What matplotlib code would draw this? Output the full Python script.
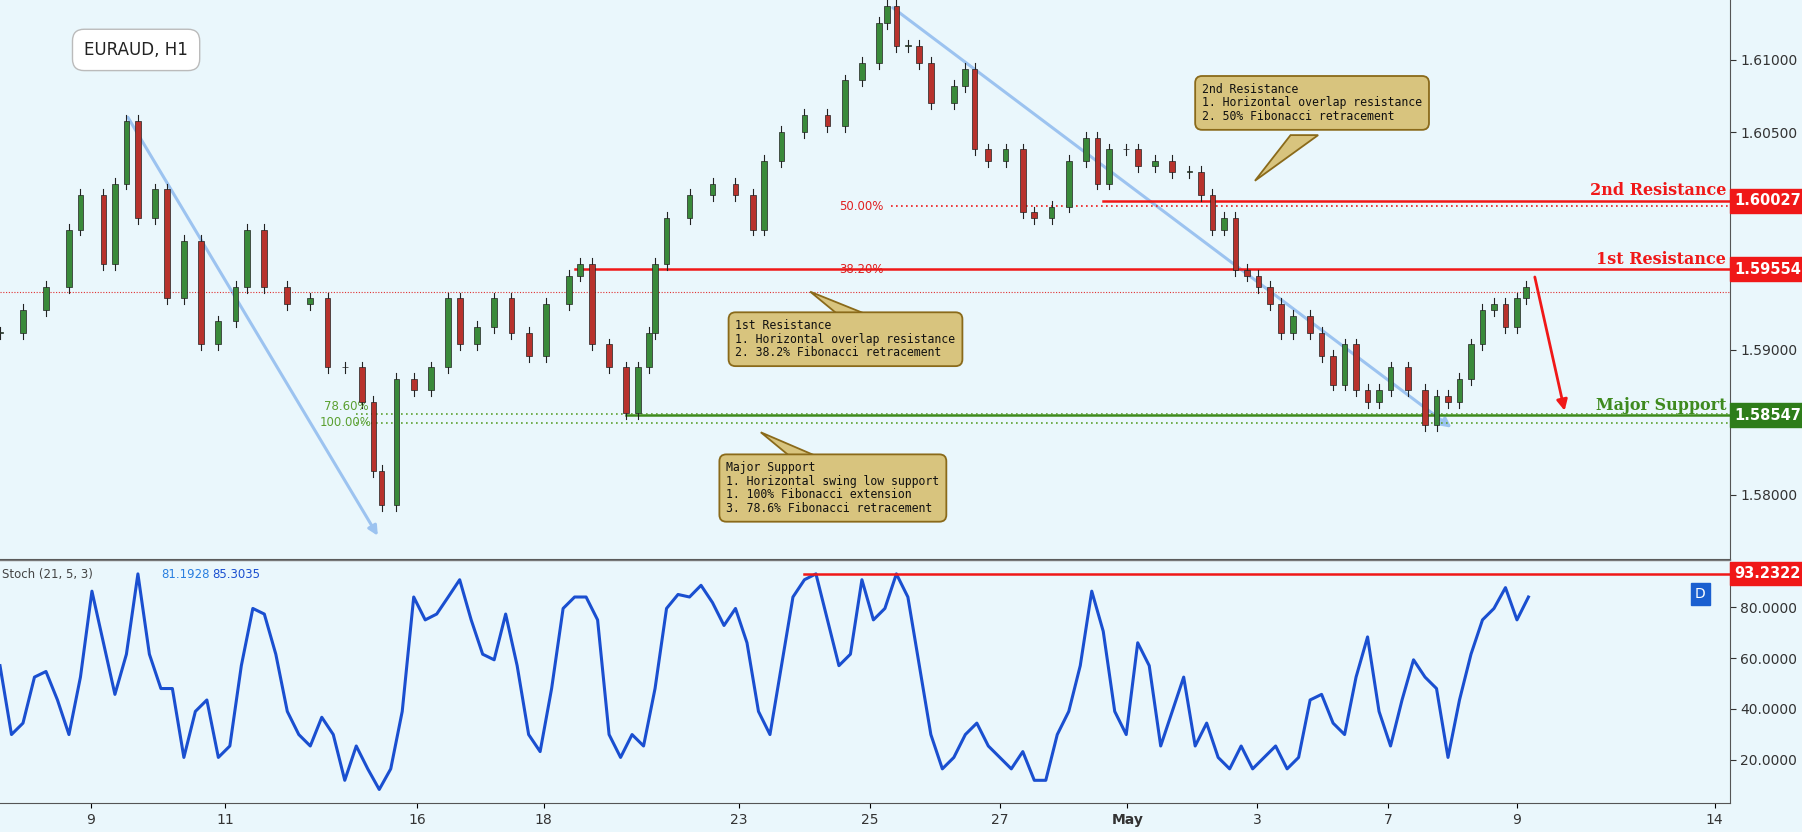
import numpy as np
import matplotlib
matplotlib.use("Agg")
import matplotlib.pyplot as plt
from matplotlib.patches import Rectangle, FancyArrowPatch
import matplotlib.transforms as mtrans

# ---- data ----
t = [0,20,40,60,70,90,100,110,120,135,145,160,175,190,205,215,230,250,270,285,300,315,325,332,345,360,375,390,400,415,
     430,445,460,475,495,505,515,530,545,555,565,570,580,600,620,640,655,665,680,700,720,735,750,765,772,780,790,800,810,830,
     840,848,860,875,890,900,915,930,945,955,965,980,990,1005,1020,1035,1045,1055,1065,1075,1085,1095,1105,1115,1125,1140,1150,1160,1170,1180,
     1190,1200,1210,1225,1240,1250,1260,1270,1280,1290,1300,1310,1320,1328]
close = [1.59116,1.59274,1.59432,1.59828,1.60066,1.59591,1.60145,1.6058,1.59907,1.60105,1.59353,1.59749,1.59036,1.59195,1.59432,1.59828,1.59432,1.59313,1.59353,1.58878,
         1.58878,1.5864,1.58165,1.57928,1.58799,1.5872,1.58878,1.59353,1.59036,1.59155,1.59353,1.59116,1.58957,1.59313,1.59511,1.59591,1.59036,1.58878,1.58561,1.58878,
         1.59116,1.59591,1.59907,1.60066,1.60145,1.60066,1.59828,1.60303,1.60501,1.6062,1.60541,1.60857,1.60976,1.61253,1.61372,1.61095,1.61095,1.60976,1.60699,1.60818,
         1.60937,1.60382,1.60303,1.60382,1.59947,1.59907,1.59987,1.60303,1.60462,1.60145,1.60382,1.60382,1.60264,1.60303,1.60224,1.60224,1.60066,1.59828,1.59907,1.59551,
         1.59511,1.59432,1.59313,1.59116,1.59234,1.59116,1.58957,1.58759,1.59036,1.5872,1.5864,1.5872,1.58878,1.5872,1.58482,1.5868,1.5864,1.58799,1.59036,1.59274,
         1.59313,1.59155,1.59353,1.59432]
wick = 0.0004

stoch = [57,29.9,34.4,52.5,54.7,43.5,29.9,52.5,86.3,66,45.7,61.5,93.1,61.5,48,48,20.9,39,43.5,20.9,
         25.4,57,79.5,77.3,61.5,39,29.9,25.4,36.7,29.9,11.9,25.4,16.4,8.3,16.4,39,84,75,77.3,84,
         90.8,75,61.5,59.3,77.3,57,29.9,23.2,48,79.5,84,84,75,29.9,20.9,29.9,25.4,48,79.5,85,
         84,88.6,81.8,72.8,79.5,66,39,29.9,57,84,90.8,93.1,75,57,61.5,90.8,75,79.5,93.1,84,
         57,29.9,16.4,20.9,29.9,34.4,25.4,20.9,16.4,23.2,11.9,11.9,29.9,39,57,86.3,70.5,39,29.9,66,
         57,25.4,39,52.5,25.4,34.4,20.9,16.4,25.4,16.4,20.9,25.4,16.4,20.9,43.5,45.7,34.4,29.9,52.5,68.3,
         39,25.4,43.5,59.3,52.5,48,20.9,43.5,61.5,75,79.5,87.7,75,84]
stoch_step = 10

date_pos = [79,196,363,473,643,757,870,981,1094,1208,1320,1492]
date_lab = ['9','11','16','18','23','25','27','May','3','7','9','14']

res2, res1, sup = 1.60027, 1.59554, 1.58547
fib50, fib382, fib786, fib100 = 1.5999, 1.59554, 1.58555, 1.58497
last_price = 1.5940
stoch_res = 93.2322

BG = '#eaf7fc'
fig = plt.figure(figsize=(18.02, 8.32), dpi=100, facecolor=BG)
ax = fig.add_axes([0, 0.3283, 0.9598, 0.6717], facecolor=BG)
ax2 = fig.add_axes([0, 0.0345, 0.9598, 0.2895], facecolor=BG)
for a in (ax, ax2):
    a.set_xlim(0, 1505)
    for s in ('top', 'left'):
        a.spines[s].set_visible(False)
    a.spines['right'].set_color('#555555')
    a.spines['bottom'].set_color('#555555')
    a.yaxis.tick_right()
    a.tick_params(axis='y', labelsize=10, colors='#333333', length=4)
ax.set_ylim(1.57557, 1.61412)
ax2.set_ylim(2.86, 97.6)
ax.set_xticks([])
ax.set_yticks([1.58, 1.59, 1.605, 1.61])
ax.set_yticklabels(['1.58000', '1.59000', '1.60500', '1.61000'])
ax2.set_yticks([20, 40, 60, 80])
ax2.set_yticklabels(['20.0000', '40.0000', '60.0000', '80.0000'])
ax2.set_xticks(date_pos)
ax2.set_xticklabels(date_lab, fontsize=10, color='#333333')
ax2.get_xticklabels()[7].set_fontweight('bold')

# candles
opens = [close[0]] + close[:-1]
for x, o, c in zip(t, opens, close):
    hi, lo = max(o, c) + wick, min(o, c) - wick
    ax.plot([x, x], [lo, hi], color='#222222', lw=0.8, zorder=3)
    col = '#3a8a3a' if c >= o else '#b8322c'
    ax.add_patch(Rectangle((x - 2.5, min(o, c)), 5, max(abs(c - o), 0.00005), facecolor=col,
                           edgecolor='#222222', lw=0.5, zorder=4))

# levels
ax.axhline(last_price, color='#e03030', lw=0.8, ls=(0, (1, 1.5)))
ax.plot([960, 1505], [res2, res2], color='#f01818', lw=1.8)
ax.plot([500, 1505], [res1, res1], color='#f01818', lw=1.8)
ax.plot([775, 1505], [fib50, fib50], color='#f01818', lw=1.2, ls=(0, (1, 2)))
ax.text(730, fib50, '50.00%', color='#e02020', fontsize=8.5, va='center')
ax.text(730, fib382, '38.20%', color='#e02020', fontsize=8.5, va='center')
ax.plot([545, 1505], [sup, sup], color='#3e8a1e', lw=1.8)
ax.plot([310, 1505], [fib786, fib786], color='#5aa030', lw=1.2, ls=(0, (1, 2)))
ax.plot([310, 1505], [fib100, fib100], color='#5aa030', lw=1.2, ls=(0, (1, 2)))
ax.text(282, fib786 + 0.0001, '78.60%', color='#5aa030', fontsize=8.5, va='bottom')
ax.text(278, fib100, '100.00%', color='#5aa030', fontsize=8.5, va='center')

for txt, y, col in [('2nd Resistance', res2, '#f01818'), ('1st Resistance', res1, '#f01818'),
                    ('Major Support', sup, '#3e8a1e')]:
    ax.text(1502, y + 0.0001, txt, color=col, fontsize=11.5, fontweight='bold',
            family='DejaVu Serif', ha='right', va='bottom')

tr = mtrans.blended_transform_factory(ax.transAxes, ax.transData)
for lab, y, col in [('1.60027', res2, '#f01818'), ('1.59554', res1, '#f01818'), ('1.58547', sup, '#2e7d1a')]:
    ax.text(1.003, y, lab, transform=tr, color='white', fontsize=10.5, fontweight='bold', va='center',
            ha='left', bbox=dict(boxstyle='square,pad=0.3', fc=col, ec=col), clip_on=False)

# arrows
arrow_kw = dict(arrowstyle='-|>', mutation_scale=14, lw=2.2, color='#9cc3f0')
ax.add_patch(FancyArrowPatch((110, 1.6062), (330, 1.5770), **arrow_kw))
ax.add_patch(FancyArrowPatch((775, 1.6137), (1265, 1.5845), **arrow_kw))
ax.add_patch(FancyArrowPatch((1335, 1.5952), (1362, 1.5856), arrowstyle='-|>', mutation_scale=16,
                             lw=2, color='#f01818'))

# annotation boxes
box = dict(boxstyle='round,pad=0.6', fc='#d8c47e', ec='#8a6a1a', lw=1.3)
notes = [(1046, 1.6084, '2nd Resistance\n1. Horizontal overlap resistance\n2. 50% Fibonacci retracement', (1092, 1.60165), (1135, 1.6048)),
         (640, 1.5921, '1st Resistance\n1. Horizontal overlap resistance\n2. 38.2% Fibonacci retracement', (705, 1.5940), (740, 1.5925)),
         (632, 1.5823, 'Major Support\n1. Horizontal swing low support\n1. 100% Fibonacci extension\n3. 78.6% Fibonacci retracement', (662, 1.5843), (700, 1.5826))]
for x, y, txt, tip, base in notes:
    ax.fill([base[0] - 12, tip[0], base[0] + 12], [base[1], tip[1], base[1]], facecolor='#d8c47e',
            edgecolor='#8a6a1a', lw=1.3, zorder=5)
    ax.text(x, y, txt, fontsize=8.3, family='DejaVu Sans Mono', va='top', ha='left', linespacing=1.05,
            color='#111111', bbox=box, zorder=6)

fig.text(0.0467, 0.940, 'EURAUD, H1', fontsize=12, va='center', color='#222222',
         bbox=dict(boxstyle='round,pad=0.7', fc='white', ec='#bbbbbb'))

# stoch
xs = np.arange(len(stoch)) * stoch_step
ax2.plot(xs, stoch, color='#1a4fd0', lw=2.2)
ax2.plot([700, 1505], [stoch_res, stoch_res], color='#f01818', lw=1.8)
tr2 = mtrans.blended_transform_factory(ax2.transAxes, ax2.transData)
ax2.text(1.003, stoch_res, '93.2322', transform=tr2, color='white', fontsize=10.5, fontweight='bold',
         va='center', bbox=dict(boxstyle='square,pad=0.3', fc='#f01818', ec='#f01818'), clip_on=False)
ax2.text(0.983, 85.3, 'D', transform=tr2, color='white', fontsize=10, ha='center', va='center',
         bbox=dict(boxstyle='square,pad=0.3', fc='#1a5fd0', ec='#1a5fd0'))
ax2.text(2, 93, 'Stoch (21, 5, 3)', fontsize=8.5, color='#444444', va='center')
ax2.text(140, 93, '81.1928', fontsize=8.5, color='#2a7fe0', va='center')
ax2.text(185, 93, '85.3035', fontsize=8.5, color='#1a4fd0', va='center')
fig.add_artist(plt.Line2D([0, 0.9598], [0.3275, 0.3275], color='#777777', lw=1))

fig.savefig('out.png', dpi=100, facecolor=BG)
